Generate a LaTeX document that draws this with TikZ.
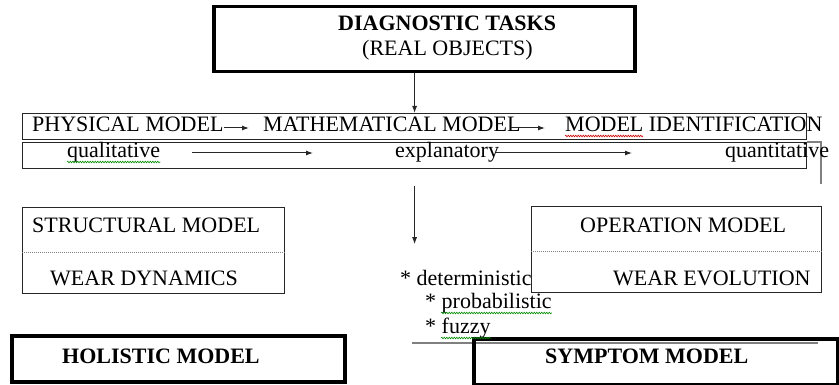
\documentclass[tikz,border=0pt]{standalone}
\usepackage{fontspec}
\setmainfont{Liberation Serif}
\usepackage{xcolor}
\usepackage{tikz}
\usetikzlibrary{arrows.meta}
\usetikzlibrary{decorations.pathmorphing}

\begin{document}
\begin{tikzpicture}[x=1pt, y=-1pt]
\tikzstyle{thinbox}=[draw=black!85, line width=1.2pt, inner sep=0pt, anchor=north west]
\tikzstyle{thickbox}=[draw=black, line width=3.5pt, inner sep=0pt, anchor=north west]
\tikzstyle{txt}=[inner sep=0pt, anchor=base west, font=\fontsize{22}{24}\selectfont]
\tikzstyle{boldtxt}=[txt, font=\fontsize{22}{24}\selectfont\bfseries]
\tikzstyle{arr}=[draw=black!85, line width=1pt, -{Latex[length=7pt,width=5pt]}]
\tikzstyle{split}=[draw=black!50, densely dotted, line width=1pt]
\tikzstyle{greyline}=[draw=black!50, line width=1.5pt]
\tikzstyle{spellgreen}=[draw=green!55!black, line width=0.6pt, decorate, decoration={snake, amplitude=0.8pt, segment length=2.5pt}]
\tikzstyle{spellred}=[spellgreen, draw=red!80!black]

\useasboundingbox (0,0) rectangle (839,385);

% Boxes
\node[thickbox, minimum width=421pt, minimum height=65pt] (tasks) at (212,5) {};
\node[thinbox, minimum width=784pt, minimum height=26pt] (upper) at (22,113) {};
\node[thinbox, minimum width=784pt, minimum height=26pt] (lower) at (22,142) {};
\node[thinbox, minimum width=262pt, minimum height=86pt] (struct) at (22,207) {};
\node[thinbox, minimum width=290pt, minimum height=86pt] (oper) at (531,206) {};
\node[thickbox, minimum width=333pt, minimum height=46pt] (holistic) at (10,334) {};

\coordinate (sep-start) at (412,343);
\coordinate (sep-end) at (818,343);
\coordinate (edge) at (821,184);
\path[greyline] (sep-start) -- (sep-end);
\path[greyline] (lower.north east) -| (edge);

\node[thickbox, minimum width=364pt, minimum height=46pt] (symptom) at (472,337) {};

\path[split] ([yshift=-2pt]struct.west) -- ([yshift=-2pt]struct.east);
\path[split] ([yshift=-2pt]oper.west) -- ([yshift=-2pt]oper.east);

% Texts
\node[boldtxt] (tasks-title) at (338,31) {DIAGNOSTIC TASKS};
\node[txt] (tasks-sub) at (362,56) {(REAL OBJECTS)};

\node[txt] (phys) at (32,132) {PHYSICAL MODEL};
\node[txt] (math) at (263,132) {MATHEMATICAL MODEL};
\node[txt] (ident) at (565,132) {MODEL IDENTIFICATION};
\node[txt] (qual) at (67,158) {qualitative};
\node[txt] (expl) at (395,158) {explanatory};
\node[txt] (quant) at (725,158) {quantitative};

\node[txt] (struct-top) at (32,233) {STRUCTURAL MODEL};
\node[txt] (struct-bot) at (50,285) {WEAR DYNAMICS};
\node[txt] (oper-top) at (580,233) {OPERATION MODEL};
\node[txt] (oper-bot) at (613,285) {WEAR EVOLUTION};
\node[boldtxt] (holistic-txt) at (62,363) {HOLISTIC MODEL};
\node[boldtxt] (symptom-txt) at (545,363) {SYMPTOM MODEL};

\node[txt] (determ) at (400,285) {* deterministic};
\node[txt] (prob) at (425,308) {* probabilistic};
\node[txt] (fuzzy) at (425,333) {* fuzzy};

% Spelling marks
\path[spellred] ([yshift=-4pt]ident.base west) -- ++(78,0);
\path[spellgreen] ([yshift=-4pt]qual.base west) -- ([yshift=-4pt]qual.base east);
\path[spellgreen] ([xshift=16pt,yshift=-5pt]prob.base west) -- ([yshift=-5pt]prob.base east);
\path[spellgreen] ([xshift=16pt,yshift=-5pt]fuzzy.base west) -- ([yshift=-5pt]fuzzy.base east);

% Arrows
\path[arr] (tasks.south -| upper.north) -- (upper.north);
\path[arr] ([yshift=4pt]phys.base east) -- ([xshift=-14pt,yshift=4pt]math.base west);
\path[arr] ([xshift=-10pt,yshift=4pt]math.base east) -- ([xshift=-20pt,yshift=4pt]ident.base west);
\path[arr] ([xshift=32pt,yshift=5pt]qual.base east) -- ([xshift=-82pt,yshift=5pt]expl.base west);
\path[arr] ([xshift=-3pt,yshift=5pt]expl.base east) -- ([xshift=-93pt,yshift=5pt]quant.base west);
\path[arr] ([yshift=-17pt]lower.south) -- ([yshift=-75pt]lower.south);
\end{tikzpicture}
\end{document}
